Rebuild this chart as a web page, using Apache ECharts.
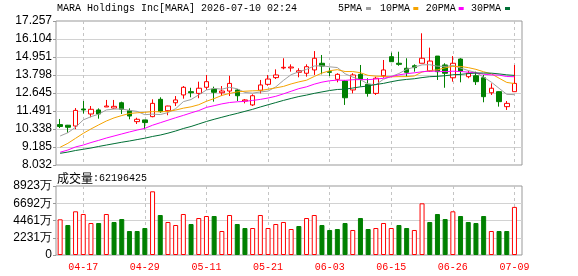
<!DOCTYPE html>
<html><head><meta charset="utf-8">
<script src="https://cdn.jsdelivr.net/npm/echarts@6/dist/echarts.min.js"></script>
<style>html,body{margin:0;padding:0;background:#fff}#c{width:578px;height:276px}</style>
</head><body><div id="c"></div>
<script>
const dates = ['04-14','04-15','04-16','04-17','04-20','04-21','04-22','04-23','04-24','04-27',
 '04-28','04-29','04-30','05-01','05-04','05-05','05-06','05-07','05-08','05-11',
 '05-12','05-13','05-14','05-15','05-18','05-19','05-20','05-21','05-22','05-26',
 '05-27','05-28','05-29','06-01','06-02','06-03','06-04','06-05','06-08','06-09',
 '06-10','06-11','06-12','06-15','06-16','06-17','06-18','06-22','06-23','06-24',
 '06-25','06-26','06-29','06-30','07-01','07-02','07-06','07-07','07-08','07-09'];
const openP = [10.62,10.58,10.53,11.62,11.30,11.56,11.75,11.68,12.02,11.51,
 10.81,10.92,11.13,12.24,11.51,12.02,12.52,12.73,12.62,13.01,
 12.90,12.66,12.77,12.84,12.13,11.88,12.82,13.20,13.63,14.25,
 14.25,13.97,13.91,14.12,14.55,14.01,13.52,13.41,12.84,13.84,
 13.20,12.62,13.75,14.97,14.55,14.23,14.39,14.55,14.05,15.01,
 14.44,13.62,14.82,13.69,13.75,13.62,12.66,12.73,11.77,12.73];
const closeP = [10.50,10.45,11.53,11.56,11.60,11.30,11.81,11.79,11.60,11.17,
 10.96,10.75,11.98,11.45,11.81,12.20,13.01,12.66,12.95,13.37,
 12.69,12.77,13.26,12.47,12.20,12.47,13.16,13.54,13.80,14.29,
 14.31,14.07,14.33,14.87,14.37,13.97,13.84,12.34,13.80,13.52,
 12.62,13.59,14.12,14.65,14.48,13.97,14.27,14.87,14.69,14.01,
 13.91,14.55,14.05,13.91,13.37,12.41,12.95,12.09,11.98,13.26];
const lowP = [10.40,10.10,10.33,11.33,11.09,11.00,11.75,11.64,11.30,10.96,
 10.66,10.32,11.09,11.38,11.22,11.81,12.28,12.37,12.31,12.84,
 12.09,12.45,12.45,12.13,11.98,11.81,12.62,13.11,13.54,14.16,
 14.01,13.65,13.69,13.80,13.84,13.73,13.33,11.88,12.62,13.05,
 12.41,12.52,13.62,14.65,14.39,13.69,14.01,14.55,14.01,13.48,
 12.98,13.37,13.33,13.59,13.16,12.05,12.52,11.77,11.56,12.73];
const highP = [10.98,10.60,11.68,12.13,11.81,11.66,12.20,12.20,12.09,11.66,
 11.06,10.92,12.24,12.37,11.83,12.45,13.09,12.98,13.37,13.80,
 13.05,13.09,13.75,12.90,12.26,12.56,13.48,13.80,14.16,14.87,
 14.48,14.23,14.48,15.33,15.08,14.27,13.91,13.48,13.91,14.44,
 13.59,13.69,14.76,15.23,15.29,14.87,14.48,16.47,15.55,15.01,
 14.55,15.01,14.87,14.05,14.01,13.80,13.26,12.75,12.13,14.44];
// volume in 万 shares
const volume = [4616,3879,5650,5301,4138,4138,5301,4267,4655,3103,
 3103,3491,8236,5172,4267,3879,5301,4008,4784,5043,
 5043,3103,5172,4008,3491,3491,5172,3491,4008,4267,
 3362,3750,4784,5172,3879,3233,3362,4138,3233,4784,
 3362,3491,4138,3491,3879,3491,3233,6683,4267,5301,
 4655,5650,5043,4267,4138,5043,3103,3103,3103,6219.6425];
// MA values before enough visible history exists
const ma5Head = [9.89,10.10,10.45,10.92];
const ma10Head = [9.17,9.42,9.74,10.06,10.34,10.60,10.85,11.05,11.20];
const ma20Head = [8.85,8.99,9.19,9.31,9.47,9.61,9.76,9.89,10.02,10.15,10.27,10.38,10.58,10.74,10.90,11.06,11.21,11.37,11.52];
const ma30Head = [8.78,8.86,8.96,9.04,9.12,9.22,9.31,9.40,9.49,9.57,9.66,9.75,9.86,9.95,10.07,10.21,10.37,10.50,10.66,10.82,10.96,11.09,11.22,11.34,11.47,11.60,11.75,11.89,12.03];
const priceTicks = ['8.032','9.185','10.338','11.491','12.645','13.798','14.951','16.104','17.257'];
const volTicks = ['0','2231万','4461万','6692万','8923万'];
const labelIdx = [3,11,19,27,35,43,51,59];
const titleText = 'MARA Holdings Inc[MARA] 2026-07-10 02:24';
const maNames = ['5PMA','10PMA','20PMA','30PMA'];
const maColors = ['#a0a0a0','#f5a300','#ff00ff','#006f35'];

const priceMin = parseFloat(priceTicks[0]);
const priceMax = parseFloat(priceTicks[priceTicks.length-1]);
const volMax = parseFloat(volTicks[volTicks.length-1]);

function movingAvg(n, head){
  return closeP.map((c,i)=>{
    if(i < n-1) return head[i];
    let s=0; for(let k=i-n+1;k<=i;k++) s+=closeP[k];
    return +(s/n).toFixed(3);
  });
}
const maData = [movingAvg(5,ma5Head), movingAvg(10,ma10Head), movingAvg(20,ma20Head), movingAvg(30,ma30Head)];
const isLabel = (i)=> labelIdx.indexOf(i) >= 0;

const chart = echarts.init(document.getElementById('c'), null, {renderer:'canvas'});
const mono = '"Liberation Mono", "DejaVu Sans Mono", monospace';
const sans = '"Liberation Sans", Arial, sans-serif';

const dashed = {show:true, interval:isLabel, alignWithLabel:true, lineStyle:{color:'#c4c4c4', type:[3,3], width:1}};

const graphic = [
  {type:'text', x:57, y:8, style:{text:titleText, font:'10px '+mono, fill:'#000', verticalAlign:'middle'}},
  {type:'text', x:57, y:178, style:{text:'{a|成交量}{b|:' + Math.round(volume[volume.length-1]*10000) + '}', verticalAlign:'middle',
     rich:{a:{fontSize:12, fontFamily:'"Noto Sans CJK SC"', fill:'#000'}, b:{fontSize:10, fontFamily:mono, fill:'#000'}}}}
];
const legendX = [338, 380, 425.7, 471];
const markX = [366, 413.3, 458.7, 505];
maNames.forEach((n,k)=>{
  graphic.push({type:'text', x:legendX[k], y:8, style:{text:n, font:'10px '+mono, fill:'#000', verticalAlign:'middle'}});
  graphic.push({type:'rect', shape:{x:markX[k], y:7, width:5, height:3}, style:{fill:maColors[k]}});
});

const option = {
  animation:false,
  backgroundColor:'#fff',
  graphic: graphic,
  grid:[
    {left:56, top:21, width:466, height:144, show:true, borderColor:'#999', borderWidth:1, backgroundColor:'transparent'},
    {left:56.3, top:21, width:462, height:144},
    {left:56, top:186, width:466, height:69, show:true, borderColor:'#999', borderWidth:1, backgroundColor:'transparent'},
    {left:56.3, top:186, width:462, height:69}
  ],
  xAxis:[
    {gridIndex:0, type:'value', min:0, max:1, show:false},
    {gridIndex:1, type:'category', data:dates, boundaryGap:true, axisLine:{show:false}, axisTick:{show:false}, axisLabel:{show:false}, splitLine:dashed},
    {gridIndex:2, type:'value', min:0, max:1, show:false},
    {gridIndex:3, type:'category', data:dates, boundaryGap:true, axisLine:{show:false}, axisTick:{show:false},
      axisLabel:{show:true, interval:isLabel, color:'#f00', fontFamily:mono, fontSize:10, margin:7}, splitLine:dashed}
  ],
  yAxis:[
    {gridIndex:0, type:'value', min:0, max:priceTicks.length-1, interval:1,
      axisLine:{show:false}, axisTick:{show:true, length:3, lineStyle:{color:'#999'}},
      axisLabel:{formatter:(v)=>priceTicks[v], color:'#000', fontFamily:sans, fontSize:12, margin:4},
      splitLine:{show:true, showMinLine:false, showMaxLine:false, lineStyle:{color:'#d2d2d2', width:1}}},
    {gridIndex:1, type:'value', min:priceMin, max:priceMax, show:false},
    {gridIndex:2, type:'value', min:0, max:volTicks.length-1, interval:1,
      axisLine:{show:false}, axisTick:{show:true, length:3, lineStyle:{color:'#999'}},
      axisLabel:{formatter:(v)=>volTicks[v], color:'#000', fontFamily:sans, fontSize:12, margin:4},
      splitLine:{show:true, showMinLine:false, showMaxLine:false, lineStyle:{color:'#d2d2d2', width:1}}},
    {gridIndex:3, type:'value', min:0, max:volMax, show:false}
  ],
  series:[
    {type:'candlestick', xAxisIndex:1, yAxisIndex:1, barWidth:5,
      data: dates.map((d,i)=>[openP[i], closeP[i], lowP[i], highP[i]]),
      itemStyle:{color:'#fff', color0:'#008000', borderColor:'#ff0000', borderColor0:'#008000', borderWidth:1}},
    ...maNames.map((n,k)=>({type:'line', name:n, xAxisIndex:1, yAxisIndex:1, data:maData[k], showSymbol:false, symbol:'none',
      lineStyle:{color:maColors[k], width:1}, z:3})),
    {type:'bar', xAxisIndex:3, yAxisIndex:3, barWidth:5,
      data: volume.map((v,i)=>{
        const up = i===0 || closeP[i] >= closeP[i-1];
        return {value:v, itemStyle: up ? {color:'#fff', borderColor:'#ff0000', borderWidth:1} : {color:'#008000', borderColor:'#008000', borderWidth:1}};
      })}
  ]
};
chart.setOption(option);
</script></body></html>
